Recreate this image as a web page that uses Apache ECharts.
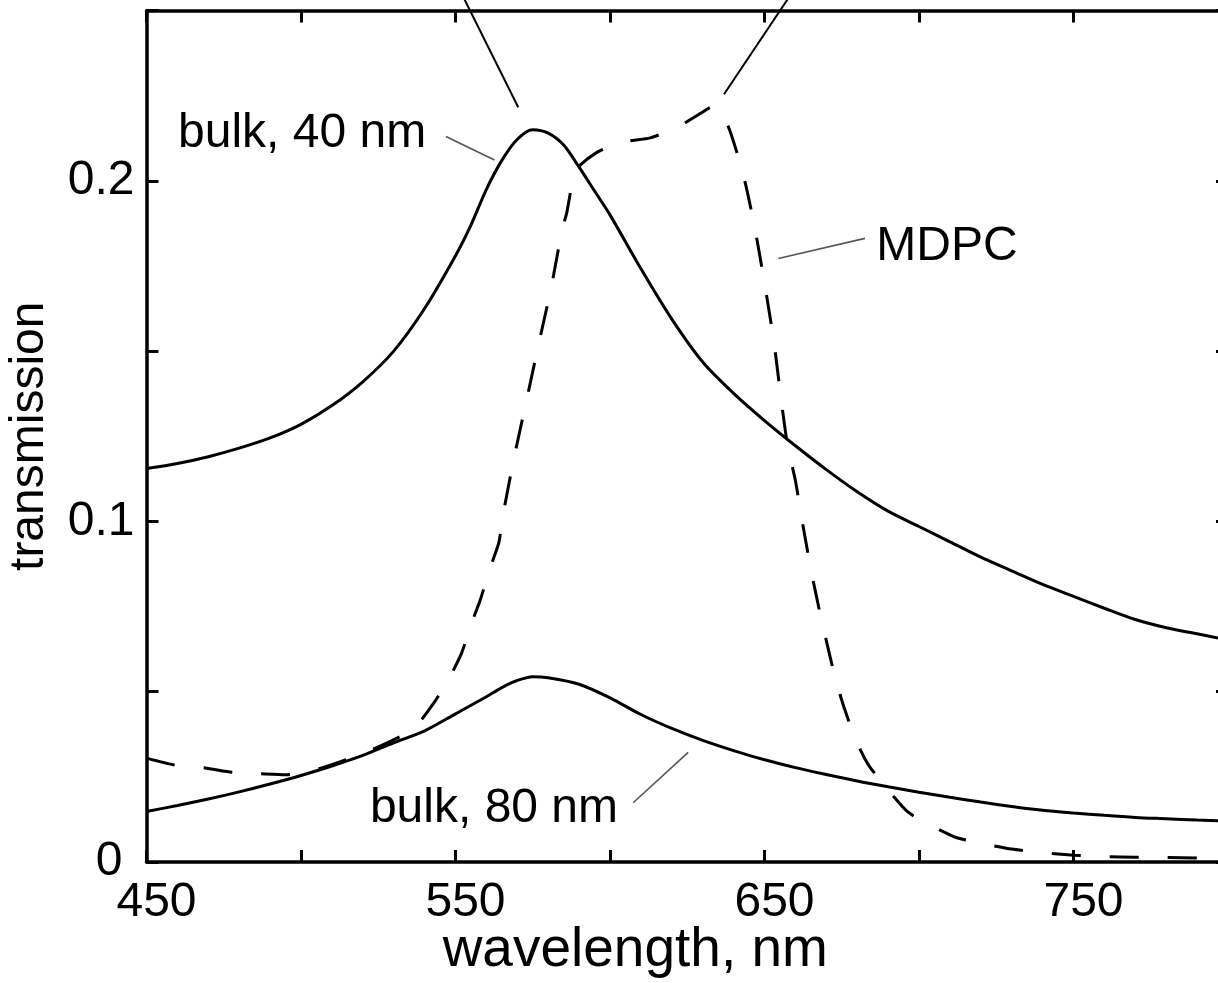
<!DOCTYPE html>
<html>
<head>
<meta charset="utf-8">
<script src="https://cdn.jsdelivr.net/npm/echarts@6/dist/echarts.min.js"></script>
<style>html,body{margin:0;padding:0;background:#fff;}#main{width:1218px;height:983px;}</style>
</head>
<body>
<div id="main"></div>
<script>
// ---- data ----
const bulk40Wl = [450,460,470,480,490,500,510,520,530,540,550,555,560,565,570,575,580,585,590,595,600,610,620,630,640,650,660,670,680,690,700,710,720,730,740,750,760,770,780,790,800];
const bulk40T  = [0.1155,0.1170,0.1190,0.1215,0.1245,0.1285,0.1340,0.1410,0.1500,0.1625,0.1780,0.1870,0.1975,0.2060,0.2122,0.2150,0.2140,0.2105,0.2040,0.1970,0.1900,0.1742,0.1594,0.1468,0.1376,0.1296,0.1222,0.1152,0.1087,0.1030,0.0985,0.0940,0.0895,0.0855,0.0815,0.0780,0.0745,0.0712,0.0688,0.0670,0.0652];

const bulk80Wl = [450,460,470,480,490,500,510,520,530,540,550,560,565,570,575,580,590,600,610,620,630,640,650,660,670,680,690,700,710,720,730,740,750,760,770,780,790,800];
const bulk80T  = [0.0148,0.0166,0.0185,0.0206,0.0229,0.0254,0.0282,0.0313,0.0350,0.0385,0.0435,0.0485,0.0512,0.0533,0.0544,0.0541,0.0522,0.0482,0.0433,0.0392,0.0357,0.0327,0.0300,0.0277,0.0257,0.0238,0.0221,0.0205,0.0190,0.0176,0.0163,0.0152,0.0144,0.0137,0.0131,0.0127,0.0123,0.0120];

const mdpcWl = [450,459,469,478,487,495,505,515,525,532,537,543,548,552,555,558,561,564,565.5,569,573,577,581,584.5,586,589,596,604,613,622,630,633.5,638,641,644,647,650,653,655.5,657.5,660,662.5,665,667.5,670,672.5,675,678,681,684,688,692,696,700,705,712,720,730,740,750,760,770,780,790,800];
const mdpcT  = [0.0305,0.0285,0.0276,0.0263,0.0259,0.0256,0.0272,0.0302,0.0338,0.0368,0.0396,0.0467,0.0540,0.0614,0.0696,0.0769,0.0858,0.0937,0.1025,0.1189,0.1356,0.1524,0.1688,0.1856,0.1906,0.2032,0.2085,0.2114,0.2126,0.2158,0.2202,0.2220,0.2165,0.2085,0.1985,0.1855,0.1700,0.1530,0.1350,0.1220,0.1120,0.0985,0.0860,0.0750,0.0650,0.0555,0.0475,0.0395,0.0330,0.0280,0.0235,0.0190,0.0150,0.0125,0.0102,0.0072,0.0055,0.0038,0.0027,0.0020,0.0016,0.0014,0.0013,0.0012,0.0011];

// tick labels
const xTickLabels = ['450','550','650','750'];
const yTickLabels = ['0','0.1','0.2'];

// annotations (data coordinates)
const annoTexts = [
  {text:'bulk, 40 nm', at:[460.2, 0.2139]},
  {text:'MDPC',        at:[686.2, 0.1807]},
  {text:'bulk, 80 nm', at:[522.3, 0.0157]}
];
const leaderLines = [
  {from:[546.9,0.2130], to:[562.6,0.2061], color:'#555', width:1.6},
  {from:[654.5,0.1772], to:[682.5,0.1831], color:'#555', width:1.6},
  {from:[607.5,0.0174], to:[625.3,0.0322], color:'#555', width:1.6},
  {from:[570.3,0.2216], to:[552.5,0.2540], color:'#000', width:2},
  {from:[636.9,0.2254], to:[658.0,0.2540], color:'#000', width:2}
];

const FONT = "'Liberation Sans', Arial, Helvetica, sans-serif";
const FS = 48;

function pairs(xs, ys){ return xs.map((x,i)=>[x, ys[i]]); }

const chart = echarts.init(document.getElementById('main'), null, {renderer:'canvas'});

const axisLineStyle = {color:'#000', width:3.5};
const tickStyle = {color:'#000', width:3};

const option = {
  animation:false,
  backgroundColor:'#fff',
  grid:{left:146.5, right:-10, top:10.5, bottom:121, containLabel:false, outerBoundsMode:'none'},
  xAxis:[
    {type:'value', min:450, max:800, interval:50, position:'bottom',
     axisLine:{show:true, onZero:false, lineStyle:axisLineStyle},
     axisTick:{show:true, inside:true, length:12, lineStyle:tickStyle},
     splitLine:{show:false},
     axisLabel:{show:true, margin:17, color:'#000', fontSize:FS, fontFamily:FONT, padding:[0,0,0,20],
       showMinLabel:true, showMaxLabel:true,
       formatter:function(v){ const s=String(Math.round(v)); return xTickLabels.indexOf(s)>=0 ? s : ''; }},
     name:'wavelength, nm', nameLocation:'middle', nameGap:89, nameMoveOverlap:false,
     nameTextStyle:{color:'#000', fontSize:55, fontFamily:FONT, verticalAlign:'middle', padding:[0,104,0,0]}
    },
    {type:'value', min:450, max:800, interval:50, position:'top',
     axisLine:{show:true, onZero:false, lineStyle:axisLineStyle},
     axisTick:{show:true, inside:true, length:12, lineStyle:tickStyle},
     splitLine:{show:false}, axisLabel:{show:false}}
  ],
  yAxis:[
    {type:'value', min:0, max:0.25, interval:0.05, position:'left',
     axisLine:{show:true, onZero:false, lineStyle:axisLineStyle},
     axisTick:{show:true, inside:true, length:12, lineStyle:tickStyle},
     splitLine:{show:false},
     axisLabel:{show:true, margin:12, color:'#000', fontSize:FS, fontFamily:FONT,
       rich:{z:{fontSize:FS, fontFamily:FONT, color:'#000', padding:[0,12,0,0]}},
       formatter:function(v){ const s = (Math.abs(v)<1e-9) ? '0' : (Math.round(v*100)/100).toString(); if (yTickLabels.indexOf(s)<0) return ''; return s==='0' ? '{z|0}' : s; }},
     name:'transmission', nameLocation:'middle', nameGap:116.5, nameRotate:90, nameMoveOverlap:false,
     nameTextStyle:{color:'#000', fontSize:FS, fontFamily:FONT, verticalAlign:'middle'}
    },
    {type:'value', min:0, max:0.25, interval:0.05, position:'right',
     axisLine:{show:true, onZero:false, lineStyle:axisLineStyle},
     axisTick:{show:true, inside:true, length:12, lineStyle:tickStyle},
     splitLine:{show:false}, axisLabel:{show:false}}
  ],
  series:[
    {name:'bulk, 40 nm', type:'line', data:pairs(bulk40Wl,bulk40T), symbol:'none', smooth:0.3,
     lineStyle:{color:'#000', width:3}, z:3},
    {name:'bulk, 80 nm', type:'line', data:pairs(bulk80Wl,bulk80T), symbol:'none', smooth:0.3,
     lineStyle:{color:'#000', width:3}, z:3},
    {name:'MDPC', type:'line', data:pairs(mdpcWl,mdpcT), symbol:'none', smooth:0.2,
     lineStyle:{color:'#000', width:3, type:[29,29]}, z:2}
  ]
};
chart.setOption(option);

function px(p){ return chart.convertToPixel({gridIndex:0}, p); }
const gEls = [];
leaderLines.forEach(function(l){
  const a = px(l.from), b = px(l.to);
  gEls.push({type:'line', shape:{x1:a[0], y1:a[1], x2:b[0], y2:b[1]}, style:{stroke:l.color, lineWidth:l.width}, z:10, silent:true});
});
annoTexts.forEach(function(t){
  const a = px(t.at);
  gEls.push({type:'text', x:a[0], y:a[1], style:{text:t.text, fill:'#000', font:FS+'px '+FONT, align:'left', verticalAlign:'middle', textAlign:'left', textVerticalAlign:'middle'}, z:10, silent:true});
});
chart.setOption({graphic:gEls});
</script>
</body>
</html>
